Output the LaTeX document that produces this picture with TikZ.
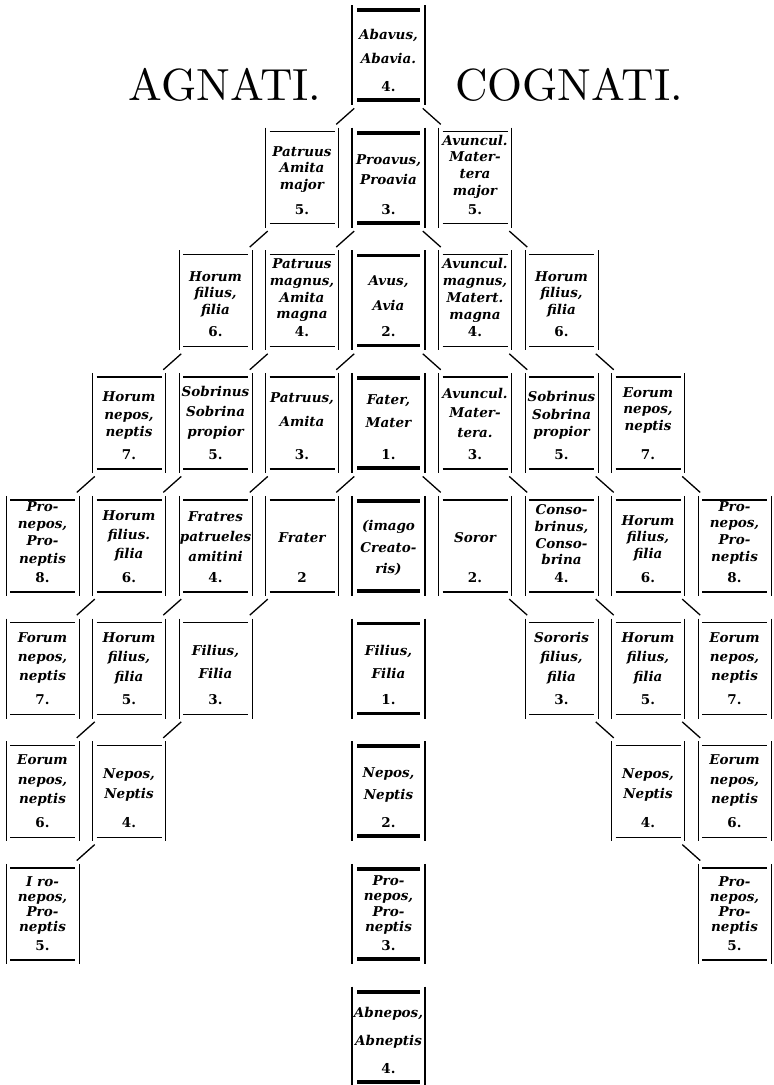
\documentclass[tikz,border=0pt]{standalone}
\usepackage{fontspec}
\usetikzlibrary{calc}
\newfontfamily\boxfont{DejaVu Serif}
\newfontfamily\titlefont{lmroman10-regular}[Extension=.otf]
\tikzset{
  cell/.style={rectangle, minimum width=73pt, minimum height=96pt, inner sep=0pt, outer sep=0pt},
  txt/.style={align=center, inner sep=0pt, text=black},
  numl/.style={inner sep=0pt, font=\boxfont\bfseries\fontsize{13.5}{15}\selectfont},
  vlight/.style={line width=0.9pt},
  hlight/.style={line width=1.4pt},
  vheavy/.style={line width=2.8pt},
  hheavy/.style={line width=3.8pt},
  conn/.style={line width=1.3pt},
  title/.style={font=\titlefont\fontsize{45}{50}\selectfont, inner sep=0pt, anchor=base}
}
\newcommand{\kframelight}[1]{%
  \draw[vlight] ([yshift=2]#1.north west) -- ([yshift=-2]#1.south west);
  \draw[vlight] ([yshift=2]#1.north east) -- ([yshift=-2]#1.south east);
  \draw[hlight] ([xshift=4,yshift=-2]#1.north west) -- ([xshift=-4,yshift=-2]#1.north east);
  \draw[hlight] ([xshift=4,yshift=2]#1.south west) -- ([xshift=-4,yshift=2]#1.south east);}
\newcommand{\kframeheavy}[1]{%
  \draw[vheavy] ([yshift=2]#1.north west) -- ([yshift=-2]#1.south west);
  \draw[vheavy] ([yshift=2]#1.north east) -- ([yshift=-2]#1.south east);
  \draw[hheavy] ([xshift=5,yshift=-3]#1.north west) -- ([xshift=-5,yshift=-3]#1.north east);
  \draw[hheavy] ([xshift=5,yshift=3]#1.south west) -- ([xshift=-5,yshift=3]#1.south east);}
% name, col, row, heavy/light, text, number, text centre offset from top, line skip
\newcommand{\kb}[8]{%
  \node[cell] (#1) at ({388.5+86.5*(#2)},{-55-122.7*(#3)}) {};
  \node[txt, font=\boxfont\bfseries\itshape\fontsize{13.5}{#8}\selectfont] (#1t) at ([yshift={48-(#7)}]#1.center) {#5};
  \if\relax\detokenize{#6}\relax\else
  \node[numl] (#1n) at ([yshift=-31.5]#1.center) {#6};
  \fi
  \csname kframe#4\endcsname{#1}%
}
\newcommand{\lc}[2]{\draw[conn] ($(#1.south west)!.5!(#2.north east)+(9,8)$) -- ($(#1.south west)!.5!(#2.north east)+(-9,-8)$);}
\newcommand{\rc}[2]{\draw[conn] ($(#1.south east)!.5!(#2.north west)+(-9,8)$) -- ($(#1.south east)!.5!(#2.north west)+(9,-8)$);}
\begin{document}
\begin{tikzpicture}[x=1pt,y=1pt]
\fill[white] (0,0) rectangle (774,-1085);
\useasboundingbox (0,0) rectangle (774,-1085);
\node[title] (agnati) at (225,-100) {AGNATI.};
\node[title] (cognati) at (569,-100) {COGNATI.};
% row 0
\kb{n0C}{0}{0}{heavy}{Abavus,\\Abavia.}{4.}{39}{24}
% row 1
\kb{n1L1}{-1}{1}{light}{Patruus\\Amita\\major}{5.}{39.5}{16.5}
\kb{n1C}{0}{1}{heavy}{Proavus,\\Proavia}{3.}{40}{20}
\kb{n1R1}{1}{1}{light}{Avuncul.\\Mater-\\tera\\major}{5.}{37}{16.7}
% row 2
\kb{n2L2}{-2}{2}{light}{Horum\\filius,\\filia}{6.}{41.5}{16.5}
\kb{n2L1}{-1}{2}{light}{Patruus\\magnus,\\Amita\\magna}{4.}{38}{16.7}
\kb{n2C}{0}{2}{heavy}{Avus,\\Avia}{2.}{40.5}{25}
\kb{n2R1}{1}{2}{light}{Avuncul.\\magnus,\\Matert.\\magna}{4.}{38}{16.7}
\kb{n2R2}{2}{2}{light}{Horum\\filius,\\filia}{6.}{41.5}{16.5}
% row 3
\kb{n3L3}{-3}{3}{light}{Horum\\nepos,\\neptis}{7.}{40.5}{17.5}
\kb{n3L2}{-2}{3}{light}{Sobrinus\\Sobrina\\propior}{5.}{38}{20}
\kb{n3L1}{-1}{3}{light}{Patruus,\\Amita}{3.}{35}{24}
\kb{n3C}{0}{3}{heavy}{Fater,\\Mater}{1.}{36}{23}
\kb{n3R1}{1}{3}{light}{Avuncul.\\Mater-\\tera.}{3.}{37.5}{19.5}
\kb{n3R2}{2}{3}{light}{Sobrinus\\Sobrina\\propior}{5.}{40.5}{17.5}
\kb{n3R3}{3}{3}{light}{Eorum\\nepos,\\neptis}{7.}{35}{16.5}
% row 4
\kb{n4L4}{-4}{4}{light}{Pro-\\nepos,\\Pro-\\neptis}{8.}{36}{17.3}
\kb{n4L3}{-3}{4}{light}{Horum\\filius.\\filia}{6.}{38}{19}
\kb{n4L2}{-2}{4}{light}{Fratres\\patrueles\\amitini}{4.}{39}{20}
\kb{n4L1}{-1}{4}{light}{Frater}{2}{40}{16}
\kb{n4C}{0}{4}{heavy}{(imago\\Creato-\\ris)}{}{50.5}{21.5}
\kb{n4R1}{1}{4}{light}{Soror}{2.}{40}{16}
\kb{n4R2}{2}{4}{light}{Conso-\\brinus,\\Conso-\\brina}{4.}{37}{16.7}
\kb{n4R3}{3}{4}{light}{Horum\\filius,\\filia}{6.}{40.5}{16.5}
\kb{n4R4}{4}{4}{light}{Pro-\\nepos,\\Pro-\\neptis}{8.}{35}{16.7}
% row 5
\kb{n5L4}{-4}{5}{light}{Forum\\nepos,\\neptis}{7.}{37}{19}
\kb{n5L3}{-3}{5}{light}{Horum\\filius,\\filia}{5.}{37.5}{19.5}
\kb{n5L2}{-2}{5}{light}{Filius,\\Filia}{3.}{41.5}{23}
\kb{n5C}{0}{5}{heavy}{Filius,\\Filia}{1.}{41.5}{23}
\kb{n5R2}{2}{5}{light}{Sororis\\filius,\\filia}{3.}{37.5}{19.5}
\kb{n5R3}{3}{5}{light}{Horum\\filius,\\filia}{5.}{37.5}{19.5}
\kb{n5R4}{4}{5}{light}{Eorum\\nepos,\\neptis}{7.}{37}{19}
% row 6
\kb{n6L4}{-4}{6}{light}{Eorum\\nepos,\\neptis}{6.}{37.5}{19.5}
\kb{n6L3}{-3}{6}{light}{Nepos,\\Neptis}{4.}{42}{20}
\kb{n6C}{0}{6}{heavy}{Nepos,\\Neptis}{2.}{42}{22}
\kb{n6R3}{3}{6}{light}{Nepos,\\Neptis}{4.}{42}{20}
\kb{n6R4}{4}{6}{light}{Eorum\\nepos,\\neptis}{6.}{37.5}{19.5}
% row 7
\kb{n7L4}{-4}{7}{light}{I ro-\\nepos,\\Pro-\\neptis}{5.}{39.5}{15}
\kb{n7C}{0}{7}{heavy}{Pro-\\nepos,\\Pro-\\neptis}{3.}{39}{15.5}
\kb{n7R4}{4}{7}{light}{Pro-\\nepos,\\Pro-\\neptis}{5.}{39.5}{15}
% row 8
\kb{n8C}{0}{8}{heavy}{Abnepos,\\Abneptis}{4.}{39}{28}
% connectors, agnati side
\lc{n0C}{n1L1}
\lc{n1L1}{n2L2}
\lc{n1C}{n2L1}
\lc{n2L2}{n3L3}
\lc{n2L1}{n3L2}
\lc{n2C}{n3L1}
\lc{n3L3}{n4L4}
\lc{n3L2}{n4L3}
\lc{n3L1}{n4L2}
\lc{n3C}{n4L1}
\lc{n4L3}{n5L4}
\lc{n4L2}{n5L3}
\lc{n4L1}{n5L2}
\lc{n5L3}{n6L4}
\lc{n5L2}{n6L3}
\lc{n6L3}{n7L4}
% connectors, cognati side
\rc{n0C}{n1R1}
\rc{n1C}{n2R1}
\rc{n1R1}{n2R2}
\rc{n2C}{n3R1}
\rc{n2R1}{n3R2}
\rc{n2R2}{n3R3}
\rc{n3C}{n4R1}
\rc{n3R1}{n4R2}
\rc{n3R2}{n4R3}
\rc{n3R3}{n4R4}
\rc{n4R1}{n5R2}
\rc{n4R2}{n5R3}
\rc{n4R3}{n5R4}
\rc{n5R2}{n6R3}
\rc{n5R3}{n6R4}
\rc{n6R3}{n7R4}
\end{tikzpicture}
\end{document}
